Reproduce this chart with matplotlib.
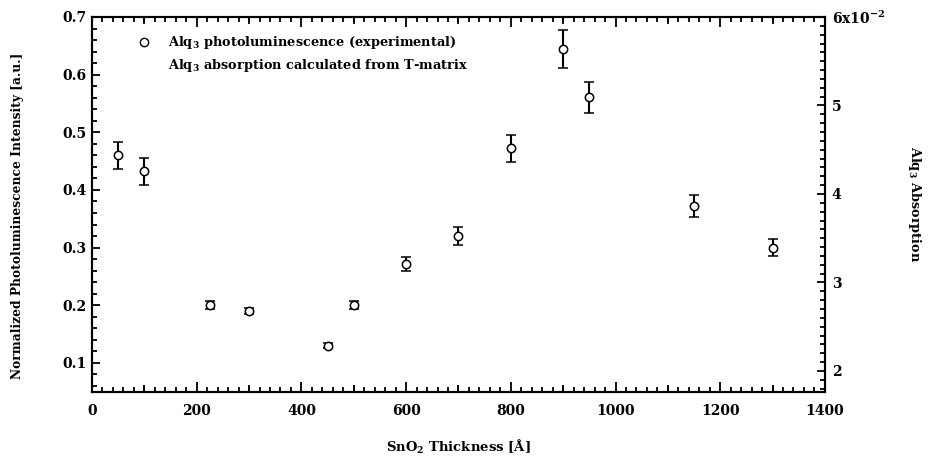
import matplotlib
matplotlib.use("Agg")
import matplotlib.pyplot as plt
from matplotlib.ticker import MultipleLocator, FixedLocator
from matplotlib.lines import Line2D

plt.rcParams['font.family'] = ['DejaVu Serif']
plt.rcParams['font.weight'] = 'bold'
plt.rcParams['axes.labelweight'] = 'bold'
plt.rcParams['mathtext.fontset'] = 'dejavuserif'

# SnO2 thickness (Angstrom) and normalized PL intensity with error bars
thickness = [50, 100, 225, 300, 450, 500, 600, 700, 800, 900, 950, 1150, 1300]
pl_intensity = [0.46, 0.432, 0.20, 0.19, 0.13, 0.20, 0.272, 0.32, 0.472, 0.644, 0.561, 0.372, 0.30]
pl_error = [0.023, 0.023, 0.007, 0.006, 0.004, 0.007, 0.012, 0.016, 0.024, 0.033, 0.027, 0.019, 0.015]

right_ticks = [2, 3, 4, 5, 6]
right_labels = ['2', '3', '4', '5', r'6x10$^{\mathbf{-2}}$']

fig = plt.figure(figsize=(9.30, 4.58), dpi=100)
ax = fig.add_axes([0.0989, 0.1448, 0.7881, 0.8181])

ax.errorbar(thickness, pl_intensity, yerr=pl_error, fmt='o', color='black',
            mfc='white', mec='black', ms=6, mew=1.1, elinewidth=1.5,
            capsize=3.3, capthick=1.5, zorder=3)

ax.set_xlim(0, 1400)
ax.set_ylim(0.05, 0.70)
ax.xaxis.set_major_locator(MultipleLocator(200))
ax.xaxis.set_minor_locator(MultipleLocator(20))
ax.yaxis.set_minor_locator(MultipleLocator(0.02))
ax.set_yticks([0.1, 0.2, 0.3, 0.4, 0.5, 0.6, 0.7])
ax.set_yticklabels(['0.1', '0.2', '0.3', '0.4', '0.5', '0.6', '0.7'])

for s in ax.spines.values():
    s.set_linewidth(1.5)

ax.tick_params(axis='x', which='both', direction='in', top=True, bottom=True,
               width=1.3, labelsize=10, pad=9)
ax.tick_params(axis='x', which='major', length=7)
ax.tick_params(axis='x', which='minor', length=3.5)
ax.tick_params(axis='y', which='both', direction='in', left=True, right=False,
               width=1.3, labelsize=10, pad=4)
ax.tick_params(axis='y', which='major', length=6)
ax.tick_params(axis='y', which='minor', length=3.5)

# intermediate-length ticks at the odd hundreds, bottom and top
for loc in ('bottom', 'top'):
    sec = ax.secondary_xaxis(loc)
    sec.xaxis.set_major_locator(FixedLocator([100, 300, 500, 700, 900, 1100, 1300]))
    sec.tick_params(direction='in', length=5, width=1.3, labelbottom=False,
                    labeltop=False)
    sec.spines[loc].set_visible(False)

ax.set_xlabel(r'SnO$_\mathbf{2}$ Thickness [Å]', fontsize=9.5)
ax.xaxis.set_label_coords(0.5, -0.124)
ax.set_ylabel('Normalized Photoluminescence Intensity [a.u.]', fontsize=8.8,
              va='center')
ax.yaxis.set_label_coords(-0.102, 0.47)

ax2 = ax.twinx()
ax2.set_ylim(1.766, 6.0)
ax2.set_yticks(right_ticks)
ax2.set_yticklabels(right_labels)
ax2.yaxis.set_minor_locator(MultipleLocator(0.1))
ax2.tick_params(axis='y', which='both', direction='in', width=1.3,
                labelsize=10, pad=5)
ax2.tick_params(axis='y', which='major', length=6)
ax2.tick_params(axis='y', which='minor', length=3.5)
for s in ax2.spines.values():
    s.set_linewidth(1.5)
ax2.set_ylabel(r'Alq$_\mathbf{3}$ Absorption', fontsize=9.3, rotation=270,
               va='center')
ax2.yaxis.set_label_coords(1.122, 0.5)

handles = [Line2D([], [], ls='none', marker='o', mfc='white', mec='black',
                  ms=6, mew=1.0),
           Line2D([], [], ls='none', marker=None)]
labels = [r'Alq$_\mathbf{3}$ photoluminescence (experimental)',
          r'Alq$_\mathbf{3}$ absorption calculated from T-matrix']
ax.legend(handles, labels, loc='upper left', bbox_to_anchor=(0.045, 0.985),
          frameon=False, fontsize=9.3, handlelength=1.2, handletextpad=1.2,
          labelspacing=0.45)

fig.savefig('out.png', dpi=100)
